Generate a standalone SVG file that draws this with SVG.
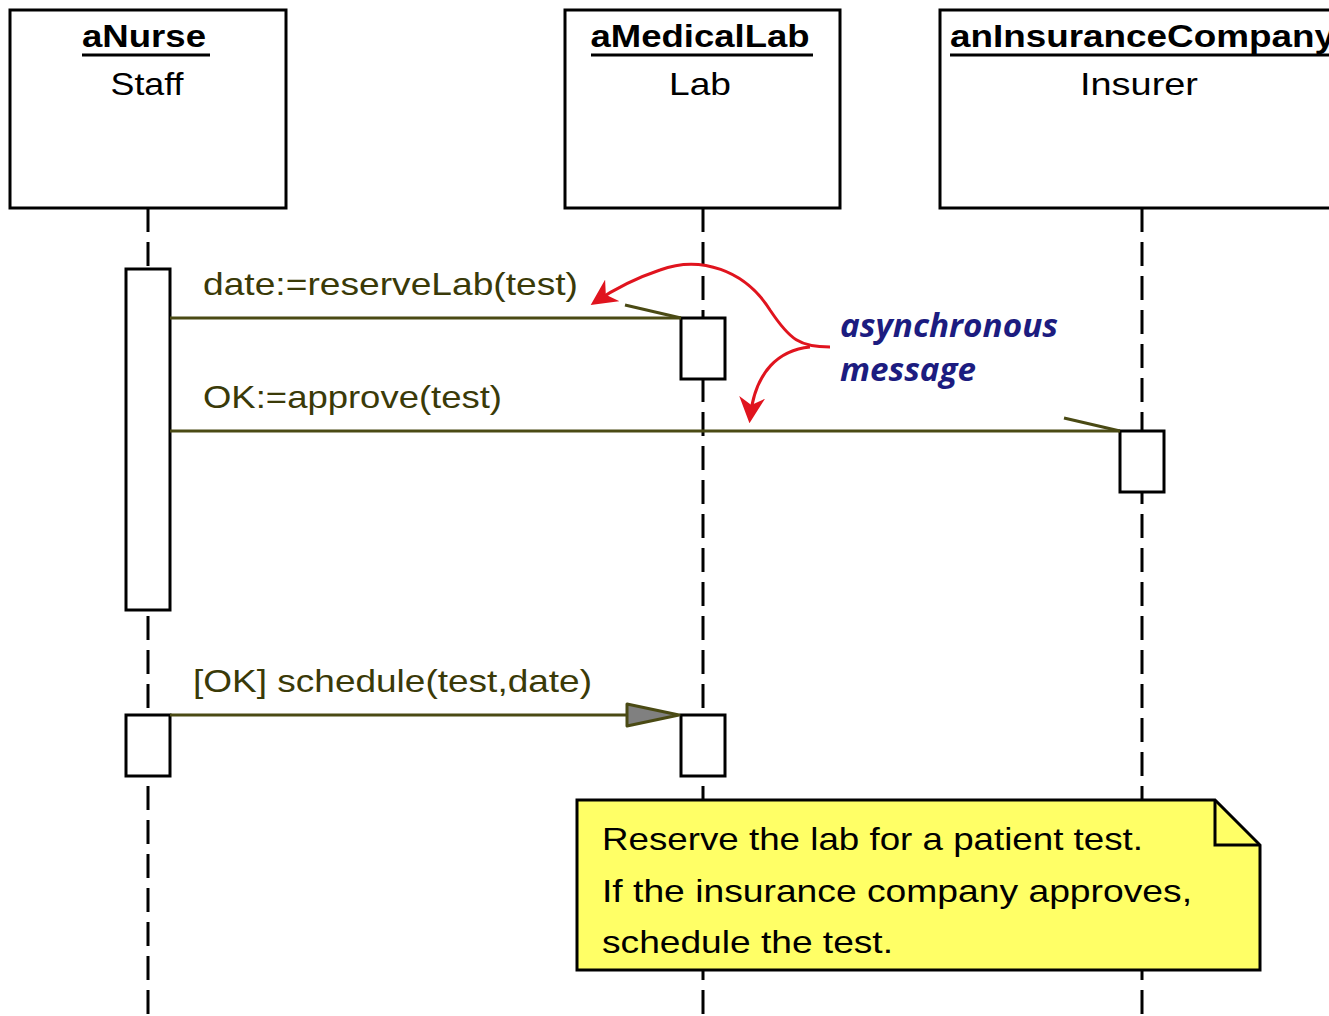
<svg xmlns="http://www.w3.org/2000/svg" width="1329" height="1016" viewBox="0 0 1329 1016">
  <style>
    .obj { fill: #ffffff; stroke: #000000; stroke-width: 3; }
    .life { stroke: #000000; stroke-width: 3; stroke-dasharray: 24 10; fill: none; }
    .act { fill: #ffffff; stroke: #000000; stroke-width: 3; }
    .name { font-family: "Liberation Sans", Arial, sans-serif; font-size: 32px; font-weight: bold; fill: #000000; text-anchor: middle; }
    .cls { font-family: "Liberation Sans", Arial, sans-serif; font-size: 32px; fill: #000000; text-anchor: middle; }
    .msg { stroke: #4a4a14; stroke-width: 3; fill: none; }
    .lbl { font-family: "Liberation Sans", Arial, sans-serif; font-size: 32px; fill: #3a3a08; }
    .note { fill: #ffff66; stroke: #000000; stroke-width: 3; }
    .ntxt { font-family: "Liberation Sans", Arial, sans-serif; font-size: 32px; fill: #000000; }
    .callout { stroke: #e0141e; stroke-width: 3; fill: none; }
    .ctxt { font-family: "Open Sans", "Noto Sans", sans-serif; font-size: 32px; font-style: italic; font-weight: bold; fill: #1c1c80; }
  </style>
  <defs>
    <marker id="redHead" viewBox="0 0 10 10" refX="8" refY="5" markerWidth="26" markerHeight="26" markerUnits="userSpaceOnUse" orient="auto">
      <path d="M0,0 L10,5 L0,10 L3,5 Z" fill="#e0141e"/>
    </marker>
  </defs>
  <rect width="1329" height="1016" fill="#ffffff"/>

  <!-- lifelines -->
  <g id="lifelines">
    <line class="life" x1="148" y1="208" x2="148" y2="1016"/>
    <line class="life" x1="703" y1="208" x2="703" y2="1016"/>
    <line class="life" x1="1142" y1="208" x2="1142" y2="1016"/>
  </g>

  <g id="aNurse">
    <rect class="obj" x="10" y="10" width="276" height="198"/>
    <text class="name" x="144" y="47" textLength="124" lengthAdjust="spacingAndGlyphs">aNurse</text>
    <line x1="82" y1="55" x2="210" y2="55" stroke="#000" stroke-width="3"/>
    <text class="cls" x="147" y="95" textLength="73" lengthAdjust="spacingAndGlyphs">Staff</text>
  </g>

  <g id="aMedicalLab">
    <rect class="obj" x="565" y="10" width="275" height="198"/>
    <text class="name" x="700" y="47" textLength="219" lengthAdjust="spacingAndGlyphs">aMedicalLab</text>
    <line x1="591" y1="55" x2="813" y2="55" stroke="#000" stroke-width="3"/>
    <text class="cls" x="700" y="95" textLength="62" lengthAdjust="spacingAndGlyphs">Lab</text>
  </g>

  <g id="anInsuranceCompany">
    <rect class="obj" x="940" y="10" width="400" height="198"/>
    <text class="name" x="950" y="47" style="text-anchor:start" textLength="385" lengthAdjust="spacingAndGlyphs">anInsuranceCompany</text>
    <line x1="950" y1="55" x2="1335" y2="55" stroke="#000" stroke-width="3"/>
    <text class="cls" x="1139" y="95" textLength="118" lengthAdjust="spacingAndGlyphs">Insurer</text>
  </g>

  <!-- activation bars -->
  <g id="activations">
    <rect class="act" x="126" y="269" width="44" height="341"/>
    <rect class="act" x="681" y="318" width="44" height="61"/>
    <rect class="act" x="1120" y="431" width="44" height="61"/>
    <rect class="act" x="126" y="715" width="44" height="61"/>
    <rect class="act" x="681" y="715" width="44" height="61"/>
  </g>

  <g id="connectors">
    <!-- reserveLab: asynchronous, half stick head -->
    <line class="msg" x1="170" y1="318" x2="681" y2="318"/>
    <line class="msg" x1="625" y1="305" x2="681" y2="318"/>
    <!-- approve: asynchronous, half stick head -->
    <line class="msg" x1="170" y1="431" x2="1120" y2="431"/>
    <line class="msg" x1="1064" y1="418" x2="1120" y2="431"/>
    <!-- schedule: filled head -->
    <line class="msg" x1="170" y1="715" x2="630" y2="715"/>
    <path d="M627,704 L679,715 L627,726 Z" fill="#808080" stroke="#4a4a14" stroke-width="3" stroke-linejoin="round"/>
  </g>

  <g id="messageLabels">
    <text class="lbl" x="203" y="295" textLength="375" lengthAdjust="spacingAndGlyphs">date:=reserveLab(test)</text>
    <text class="lbl" x="203" y="408" textLength="299" lengthAdjust="spacingAndGlyphs">OK:=approve(test)</text>
    <text class="lbl" x="193" y="692" textLength="399" lengthAdjust="spacingAndGlyphs">[OK] schedule(test,date)</text>
  </g>

  <g id="callout">
    <path class="callout" d="M830,347 C800,347 790,340 770,310 C745,270 700,255 660,270 C630,280 610,292 595,302" marker-end="url(#redHead)"/>
    <path class="callout" d="M810,347 C780,350 755,370 750,418" marker-end="url(#redHead)"/>
    <text class="ctxt" x="840" y="337" textLength="218" lengthAdjust="spacingAndGlyphs">asynchronous</text>
    <text class="ctxt" x="840" y="381" textLength="136" lengthAdjust="spacingAndGlyphs">message</text>
  </g>

  <g id="note">
    <path class="note" d="M577,800 L1215,800 L1260,845 L1260,970 L577,970 Z"/>
    <path d="M1215,800 L1215,845 L1260,845" fill="none" stroke="#000" stroke-width="3"/>
    <text class="ntxt" x="602" y="850" textLength="541" lengthAdjust="spacingAndGlyphs">Reserve the lab for a patient test.</text>
    <text class="ntxt" x="602" y="902" textLength="590" lengthAdjust="spacingAndGlyphs">If the insurance company approves,</text>
    <text class="ntxt" x="602" y="953" textLength="291" lengthAdjust="spacingAndGlyphs">schedule the test.</text>
  </g>
</svg>
